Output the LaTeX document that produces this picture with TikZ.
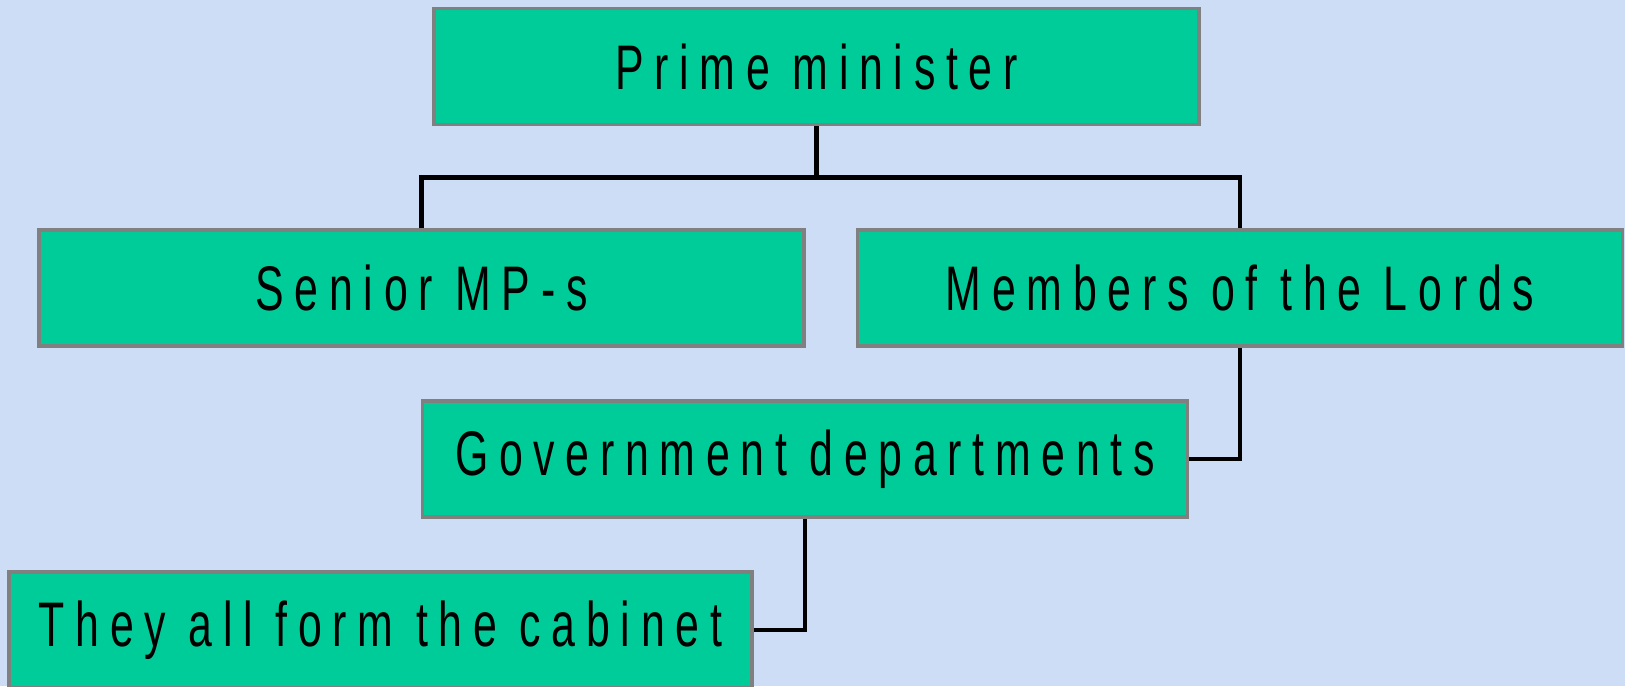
\documentclass[tikz,border=0pt]{standalone}
\usepackage{fontspec}
\usepackage{tikz}
\newfontfamily\boxfont[FakeStretch=0.68,LetterSpace=17]{Liberation Sans}
\definecolor{slidebg}{RGB}{204,221,245}
\definecolor{boxgreen}{RGB}{0,204,153}
\definecolor{boxrim}{RGB}{128,128,128}
\tikzset{
	orgbox/.style={draw=boxrim, line width=3.5pt, fill=boxgreen, rectangle,
		minimum width=765pt, minimum height=116pt, inner sep=0pt,
		font=\boxfont\fontsize{63}{70}\selectfont, text=black},
	link/.style={draw=black, line width=4.5pt}
}

\begin{document}
\begin{tikzpicture}[x=1pt, y=-1pt]
		%%%%% START %%%%%
		
		\fill[slidebg] (0, 0) rectangle (1625, 686);
		\useasboundingbox (0, 0) rectangle (1625, 686);
		
		\node[orgbox] (pm) at (816.5, 66.5) {Prime minister};
		\node[orgbox] (senior) at (421.5, 288) {Senior MP-s};
		\node[orgbox] (lords) at (1240, 288) {Members of the Lords};
		\node[orgbox] (depts) at (805, 459) {Government departments};
		\node[orgbox, minimum width=743pt] (cabinet) at (380.5, 630) {They all form the cabinet};
		
		\draw[link] (pm.south) -- ++(0, 51) coordinate (fork);
		\draw[link] (senior.north) |- (fork) -| (lords.north);
		
		\draw[link] (lords.south) |- (depts.east);
		\draw[link] (depts.south) |- (cabinet.east);
		
		%%%%% END %%%%%
	\end{tikzpicture}
\end{document}
